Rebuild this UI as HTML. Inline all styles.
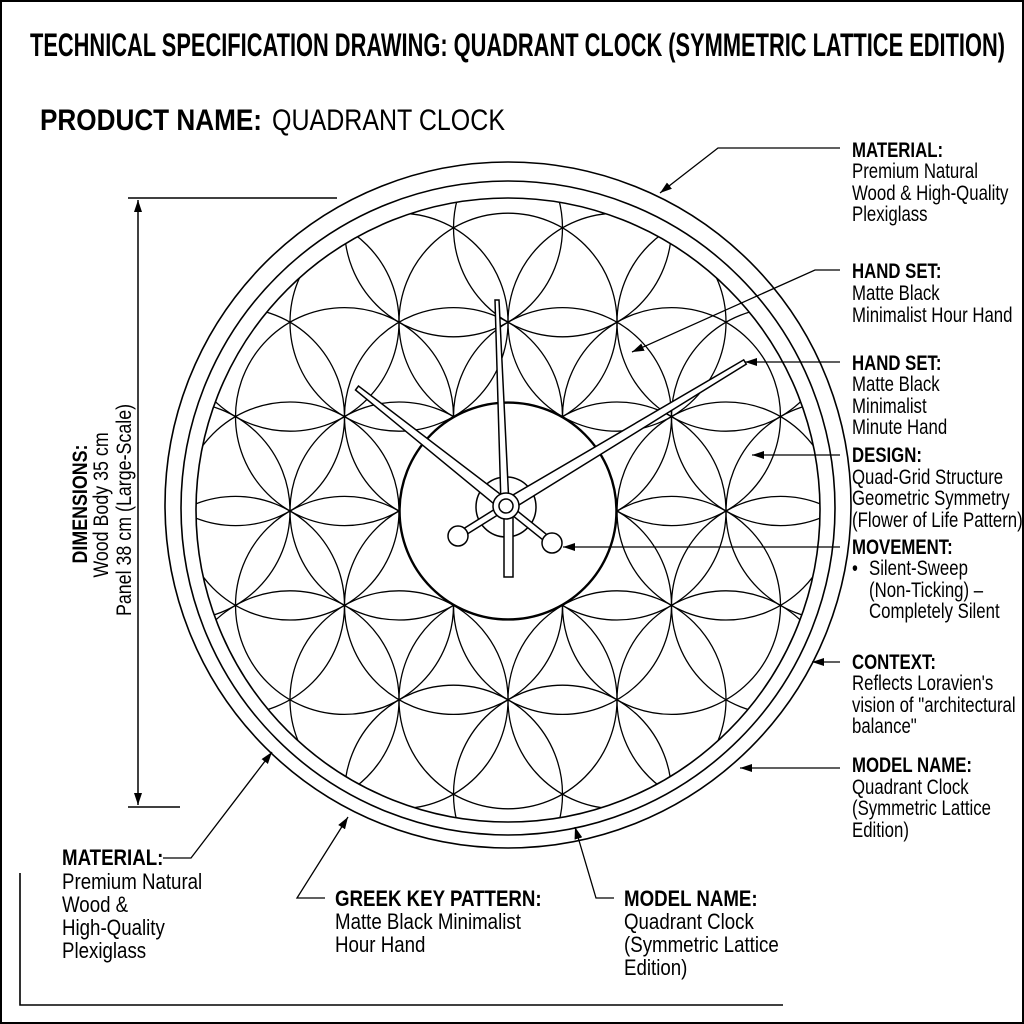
<!DOCTYPE html>
<html><head><meta charset="utf-8"><style>
html,body{margin:0;padding:0;background:#fff}
svg{display:block}
text{font-family:"Liberation Sans",Arial,sans-serif;fill:#000}
.b{font-weight:bold}
</style></head><body>
<svg width="1024" height="1024" viewBox="0 0 1024 1024" xmlns="http://www.w3.org/2000/svg">
<defs>
<marker id="ar" viewBox="0 0 12 8" refX="12" refY="4" markerWidth="12" markerHeight="8" markerUnits="userSpaceOnUse" orient="auto">
<path d="M0,0 L12,4 L0,8 z" fill="#000"/></marker>
<marker id="ar2" viewBox="0 0 12 8" refX="0" refY="4" markerWidth="12" markerHeight="8" markerUnits="userSpaceOnUse" orient="auto">
<path d="M12,0 L0,4 L12,8 z" fill="#000"/></marker>
<clipPath id="cp"><circle cx="508" cy="510" r="312"/></clipPath>
</defs>
<rect x="1" y="1" width="1022" height="1022" fill="#fff" stroke="#000" stroke-width="2"/>

<text class="b" x="30" y="56" font-size="32" textLength="975" lengthAdjust="spacingAndGlyphs">TECHNICAL SPECIFICATION DRAWING: QUADRANT CLOCK (SYMMETRIC LATTICE EDITION)</text>
<text class="b" x="40" y="130" font-size="30" textLength="222" lengthAdjust="spacingAndGlyphs">PRODUCT NAME:</text>
<text x="272" y="130" font-size="30" textLength="233" lengthAdjust="spacingAndGlyphs">QUADRANT CLOCK</text>

<g fill="none" stroke="#000" stroke-width="1.6">
<circle cx="508" cy="505" r="343"/>
<circle cx="508" cy="508" r="327"/>
<circle cx="508" cy="510" r="312"/>
</g>
<g fill="none" stroke="#000" stroke-width="1.3" clip-path="url(#cp)">
<circle cx="181" cy="511" r="109"/><circle cx="290" cy="511" r="109"/><circle cx="399" cy="511" r="109"/><circle cx="508" cy="511" r="109"/><circle cx="617" cy="511" r="109"/><circle cx="726" cy="511" r="109"/><circle cx="835" cy="511" r="109"/>
<circle cx="235.5" cy="416.6" r="109"/><circle cx="344.5" cy="416.6" r="109"/><circle cx="453.5" cy="416.6" r="109"/><circle cx="562.5" cy="416.6" r="109"/><circle cx="671.5" cy="416.6" r="109"/><circle cx="780.5" cy="416.6" r="109"/>
<circle cx="235.5" cy="605.4" r="109"/><circle cx="344.5" cy="605.4" r="109"/><circle cx="453.5" cy="605.4" r="109"/><circle cx="562.5" cy="605.4" r="109"/><circle cx="671.5" cy="605.4" r="109"/><circle cx="780.5" cy="605.4" r="109"/>
<circle cx="290" cy="322.2" r="109"/><circle cx="399" cy="322.2" r="109"/><circle cx="508" cy="322.2" r="109"/><circle cx="617" cy="322.2" r="109"/><circle cx="726" cy="322.2" r="109"/>
<circle cx="290" cy="699.8" r="109"/><circle cx="399" cy="699.8" r="109"/><circle cx="508" cy="699.8" r="109"/><circle cx="617" cy="699.8" r="109"/><circle cx="726" cy="699.8" r="109"/>
<circle cx="453.5" cy="227.8" r="109"/><circle cx="562.5" cy="227.8" r="109"/>
<circle cx="453.5" cy="794.2" r="109"/><circle cx="562.5" cy="794.2" r="109"/>
</g>
<circle cx="508" cy="511" r="108" fill="#fff" stroke="#000" stroke-width="1.5"/>

<g stroke="#000" stroke-width="1.5" fill="#fff">
<circle cx="506" cy="507" r="30" fill="none"/>
<line x1="506" y1="506" x2="458" y2="536" stroke-width="8"/>
<line x1="506" y1="506" x2="552" y2="543" stroke-width="8"/>
<line x1="506" y1="506" x2="458" y2="536" stroke="#fff" stroke-width="5"/>
<line x1="506" y1="506" x2="552" y2="543" stroke="#fff" stroke-width="5"/>
<circle cx="458" cy="536" r="10"/>
<circle cx="552" cy="543" r="10"/>
<rect x="504" y="512" width="9" height="65"/>
<polygon points="355.5,390 358.5,386 509.7,501.3 502.3,510.7"/>
<polygon points="746.3,364.1 743.7,359.9 502.9,500.9 509.1,511.1"/>
<polygon points="495,300 499,300 509,505 501,505"/>
<circle cx="506" cy="506" r="13"/>
<circle cx="506" cy="506" r="7"/>
</g>

<g stroke="#000" stroke-width="1.5" fill="none">
<line x1="128" y1="198" x2="337" y2="198"/>
<line x1="128" y1="807" x2="180" y2="807"/>
<line x1="138" y1="200" x2="138" y2="805" marker-start="url(#ar2)" marker-end="url(#ar)"/>
</g>
<text class="b" font-size="21" text-anchor="middle" transform="translate(87,504) rotate(-90) scale(0.85,1)">DIMENSIONS:</text>
<text font-size="21" text-anchor="middle" transform="translate(108,505) rotate(-90) scale(0.85,1)">Wood Body 35 cm</text>
<text font-size="21" text-anchor="middle" transform="translate(131,510) rotate(-90) scale(0.85,1)">Panel 38 cm (Large-Scale)</text>

<g stroke="#000" stroke-width="1.3" fill="none">
<polyline points="840,148 718,148 660,193" marker-end="url(#ar)"/>
<polyline points="840,270 815,270 632,352" marker-end="url(#ar)"/>
<polyline points="840,362 745,362" marker-end="url(#ar)"/>
<polyline points="840,455 752,455" marker-end="url(#ar)"/>
<polyline points="840,547 563,547" marker-end="url(#ar)"/>
<polyline points="840,662 812,662" marker-end="url(#ar)"/>
<polyline points="840,768 740,768" marker-end="url(#ar)"/>
<polyline points="163,858 191,858 272,752" marker-end="url(#ar)"/>
<polyline points="325,898 297,898 348,817" marker-end="url(#ar)"/>
<polyline points="614,898 596,898 575,827" marker-end="url(#ar)"/>
<polyline points="20,873 20,1005 783,1005" stroke-width="1.6"/>
</g>

<g font-size="21">
<text class="b" transform="translate(852,157) scale(0.8,1)">MATERIAL:</text>
<text transform="translate(852,178) scale(0.8,1)">Premium Natural</text>
<text transform="translate(852,200) scale(0.8,1)">Wood &amp; High-Quality</text>
<text transform="translate(852,221) scale(0.8,1)">Plexiglass</text>

<text class="b" transform="translate(852,278) scale(0.8,1)">HAND SET:</text>
<text transform="translate(852,300) scale(0.8,1)">Matte Black</text>
<text transform="translate(852,322) scale(0.8,1)">Minimalist Hour Hand</text>

<text class="b" transform="translate(852,370) scale(0.8,1)">HAND SET:</text>
<text transform="translate(852,391) scale(0.8,1)">Matte Black</text>
<text transform="translate(852,413) scale(0.8,1)">Minimalist</text>
<text transform="translate(852,434) scale(0.8,1)">Minute Hand</text>

<text class="b" transform="translate(852,462) scale(0.8,1)">DESIGN:</text>
<text transform="translate(852,484) scale(0.8,1)">Quad-Grid Structure</text>
<text transform="translate(852,505) scale(0.8,1)">Geometric Symmetry</text>
<text transform="translate(852,527) scale(0.8,1)">(Flower of Life Pattern)</text>

<text class="b" transform="translate(852,554) scale(0.8,1)">MOVEMENT:</text>
<text transform="translate(852,575) scale(0.8,1)">•</text>
<text transform="translate(869,575) scale(0.8,1)">Silent-Sweep</text>
<text transform="translate(869,597) scale(0.8,1)">(Non-Ticking) –</text>
<text transform="translate(869,618) scale(0.8,1)">Completely Silent</text>

<text class="b" transform="translate(852,669) scale(0.8,1)">CONTEXT:</text>
<text transform="translate(852,690) scale(0.8,1)">Reflects Loravien's</text>
<text transform="translate(852,712) scale(0.8,1)">vision of "architectural</text>
<text transform="translate(852,733) scale(0.8,1)">balance"</text>

<text class="b" transform="translate(852,772) scale(0.8,1)">MODEL NAME:</text>
<text transform="translate(852,794) scale(0.8,1)">Quadrant Clock</text>
<text transform="translate(852,815) scale(0.8,1)">(Symmetric Lattice</text>
<text transform="translate(852,837) scale(0.8,1)">Edition)</text>
</g>

<g font-size="22">
<text class="b" transform="translate(62,865) scale(0.85,1)">MATERIAL:</text>
<text transform="translate(62,889) scale(0.85,1)">Premium Natural</text>
<text transform="translate(62,912) scale(0.85,1)">Wood &amp;</text>
<text transform="translate(62,935) scale(0.85,1)">High-Quality</text>
<text transform="translate(62,958) scale(0.85,1)">Plexiglass</text>

<text class="b" transform="translate(335,906) scale(0.85,1)">GREEK KEY PATTERN:</text>
<text transform="translate(335,929) scale(0.85,1)">Matte Black Minimalist</text>
<text transform="translate(335,952) scale(0.85,1)">Hour Hand</text>

<text class="b" transform="translate(624,906) scale(0.85,1)">MODEL NAME:</text>
<text transform="translate(624,929) scale(0.85,1)">Quadrant Clock</text>
<text transform="translate(624,952) scale(0.85,1)">(Symmetric Lattice</text>
<text transform="translate(624,975) scale(0.85,1)">Edition)</text>
</g>
</svg>
</body></html>
